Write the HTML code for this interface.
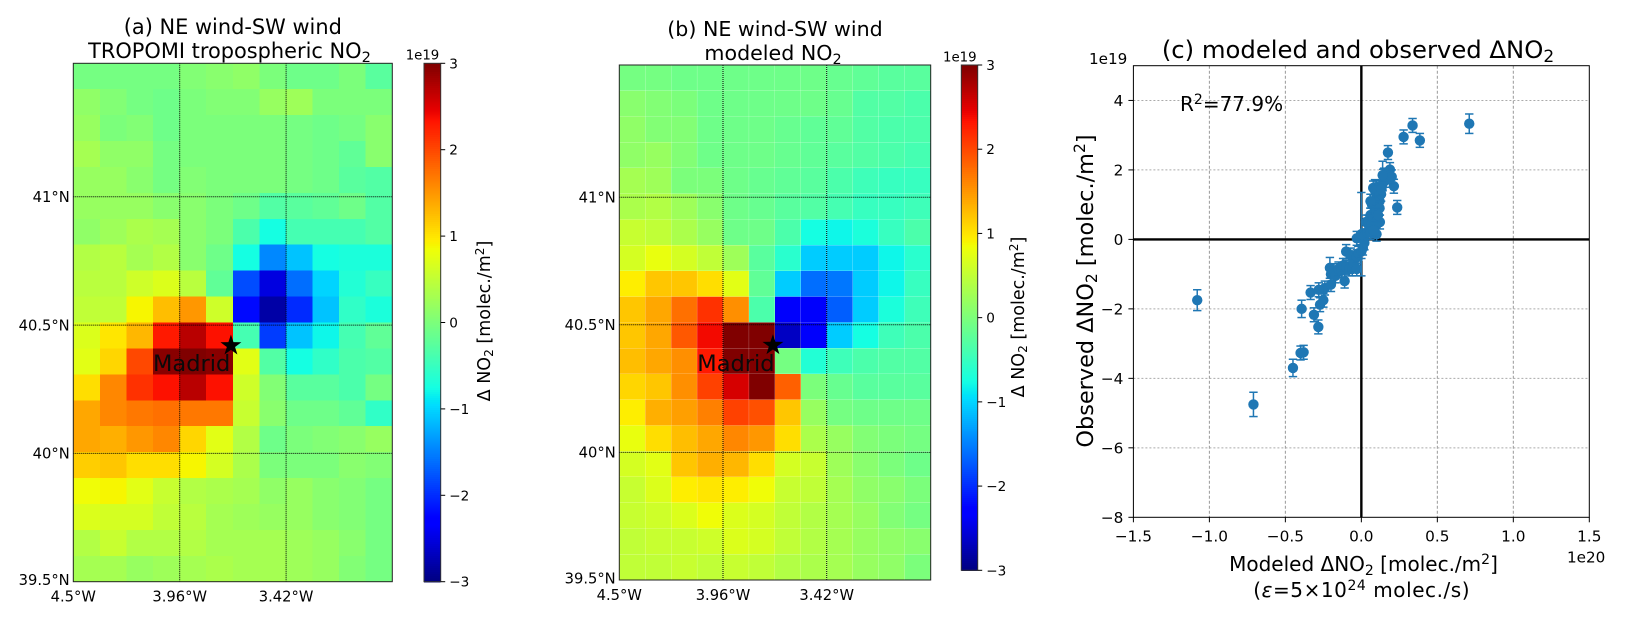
<!DOCTYPE html>
<html lang="en">
<head>
<meta charset="utf-8">
<title>NO2 wind difference maps</title>
<style>
html,body{margin:0;padding:0;background:#fff;}
svg{display:block;font-family:"DejaVu Sans","Liberation Sans",sans-serif;fill:#000;}
</style>
</head>
<body>
<svg id="fig" xmlns="http://www.w3.org/2000/svg" width="1625" height="620" viewBox="0 0 1625 620">
  <rect x="0" y="0" width="1625" height="620" fill="#fff"/>
  <g id="panelA"></g>
  <g id="panelB"></g>
  <g id="panelC"></g>

  <text x="232.8" y="34" font-size="20.9" text-anchor="middle">(a) NE wind-SW wind</text>
  <text x="229.5" y="58" font-size="20.9" text-anchor="middle">TROPOMI tropospheric NO<tspan font-size="14.6" dy="4">2</tspan></text>
  <text x="775" y="36" font-size="20.6" text-anchor="middle">(b) NE wind-SW wind</text>
  <text x="773" y="60" font-size="20.6" text-anchor="middle">modeled NO<tspan font-size="14.4" dy="4">2</tspan></text>
  <text x="1358" y="58" font-size="24.3" text-anchor="middle">(c) modeled and observed ΔNO<tspan font-size="17" dy="4">2</tspan></text>

  <text x="405.7" y="59.5" font-size="13.3">1e19</text>
  <text x="943" y="61.5" font-size="13.3">1e19</text>
  <text x="1089" y="64" font-size="15.2">1e19</text>
  <text x="1567" y="562.5" font-size="15.2">1e20</text>

  <text transform="translate(490,321) rotate(-90)" font-size="17.5" text-anchor="middle">Δ NO<tspan font-size="12.2" dy="3">2</tspan><tspan dy="-3"> [molec./m</tspan><tspan font-size="12.2" dy="-6">2</tspan><tspan dy="6">]</tspan></text>
  <text transform="translate(1024,317) rotate(-90)" font-size="17.5" text-anchor="middle">Δ NO<tspan font-size="12.2" dy="3">2</tspan><tspan dy="-3"> [molec./m</tspan><tspan font-size="12.2" dy="-6">2</tspan><tspan dy="6">]</tspan></text>

  <text transform="translate(1093,291) rotate(-90)" font-size="22.4" text-anchor="middle">Observed ΔNO<tspan font-size="15.6" dy="4">2</tspan><tspan dy="-4"> [molec./m</tspan><tspan font-size="15.6" dy="-8">2</tspan><tspan dy="8">]</tspan></text>
  <text x="1363.5" y="571" font-size="20" text-anchor="middle">Modeled ΔNO<tspan font-size="14" dy="4">2</tspan><tspan dy="-4"> [molec./m</tspan><tspan font-size="14" dy="-7">2</tspan><tspan dy="7">]</tspan></text>
  <text x="1361.7" y="597" font-size="20" text-anchor="middle" letter-spacing="0.55">(<tspan font-style="italic">ε</tspan>=5×10<tspan font-size="14" dy="-7">24</tspan><tspan dy="7"> molec./s)</tspan></text>
  <text x="1180" y="111" font-size="20">R<tspan font-size="14" dy="-7">2</tspan><tspan dy="7">=77.9%</tspan></text>

  <text x="153" y="371" font-size="22.5" fill="#0a0a0a">Madrid</text>
  <text x="697.3" y="371" font-size="22.5" fill="#0a0a0a">Madrid</text>
</svg>

<script>
// Panel (a) observed difference, 1e19 molec./m2, rows north to south, 12 columns
const observedRows = [
  [-.05,-.05,-.05,-.05,.05,.1,.15,0,-.1,-.1,0,-.25],
  [.15,.05,-.05,-.1,0,.05,.05,.2,.25,0,0,0],
  [.2,0,.05,-.1,0,0,0,0,-.05,-.1,-.05,.1],
  [.3,.15,.15,-.05,0,0,0,0,-.05,-.1,-.2,.1],
  [.2,.2,.1,-.05,.05,0,0,0,-.05,-.1,-.25,-.3],
  [.2,.2,.2,.1,.1,0,-.1,-.3,-.25,-.2,-.1,-.3],
  [.15,.25,.35,.3,.1,0,-.35,-.75,-.4,-.4,-.4,-.3],
  [.4,.45,.3,.4,.1,-.1,-.75,-1.45,-1.1,-.75,-.7,-.7],
  [.45,.45,.6,.7,.45,-.2,-1.8,-2.5,-1.6,-1.0,-.65,-.5],
  [.5,.5,.9,1.25,1.5,.6,-2.2,-2.8,-2.0,-1.1,-.55,-.7],
  [.7,1.0,1.3,2.3,2.7,2.35,-.4,-1.9,-1.1,-.8,-.4,-.2],
  [.75,1.1,2.0,2.95,3.0,2.95,.75,-.3,-.75,-.55,-.35,-.3],
  [1.05,1.6,2.15,2.35,2.7,2.35,.6,.05,-.25,-.25,-.35,-.05],
  [1.4,1.6,1.7,1.75,1.7,1.7,.55,.1,-.1,-.1,-.2,-.55],
  [1.4,1.35,1.5,1.6,1.1,.75,.4,-.1,0,.05,.1,.2],
  [1.15,1.2,1.05,1.05,.9,.65,.35,0,0,0,.1,.05],
  [.85,.9,.75,.55,.4,.35,.3,.15,.2,.1,.05,-.05],
  [.7,.65,.65,.5,.45,.3,.25,.2,.2,.1,.05,-.05],
  [.4,.55,.4,.4,.4,.3,.3,.3,.25,.2,.1,-.05],
  [.3,.3,.2,.25,.3,.35,.3,.3,.25,.2,.05,-.05]
];
// Panel (b) modeled difference, 1e19 molec./m2
const modeledRows = [
  [-.05,-.05,-.1,-.1,-.1,-.1,-.1,-.1,-.15,-.2,-.25,-.25],
  [.1,.05,0,-.1,-.1,-.1,-.1,-.1,-.15,-.3,-.3,-.35],
  [.15,.05,.05,-.1,-.1,-.1,-.15,-.2,-.2,-.3,-.35,-.35],
  [.15,.2,.05,-.1,-.1,-.1,-.15,-.2,-.25,-.3,-.35,-.4],
  [.3,.25,0,0,-.1,-.15,-.2,-.25,-.35,-.45,-.5,-.5],
  [.35,.4,.25,.1,-.1,-.15,-.25,-.3,-.4,-.5,-.5,-.45],
  [.55,.5,.35,.2,-.1,-.1,-.35,-.75,-.8,-.7,-.5,-.35],
  [.65,.8,.65,.5,.25,-.25,-.6,-1.05,-1.05,-1.05,-.8,-.6],
  [.95,1.2,1.2,1.05,.75,-.2,-1.05,-1.6,-1.55,-1.05,-.8,-.5],
  [1.2,1.4,1.75,2.15,1.55,-.35,-2.35,-2.35,-1.7,-1.05,-.7,-.45],
  [1.2,1.4,1.9,2.4,3.0,3.0,-2.65,-2.35,-1.05,-.75,-.45,-.35],
  [1.25,1.4,1.55,2.3,3.0,3.0,-.05,-.65,-.45,-.35,-.3,-.3],
  [1.1,1.2,1.55,2.05,2.55,3.0,1.85,0,-.15,-.25,-.25,-.25],
  [.95,1.35,1.45,1.65,2.05,1.95,1.2,.2,-.05,-.1,-.1,-.1],
  [.8,1.05,1.25,1.4,1.6,1.5,1.05,.35,.2,.05,0,-.05],
  [.65,.75,1.2,1.35,1.3,1.05,.65,.55,.25,.1,0,-.1],
  [.55,.7,.95,1.0,.95,.85,.55,.5,.3,.15,.1,0],
  [.55,.6,.7,.85,.7,.65,.5,.4,.3,.2,.05,-.05],
  [.5,.55,.55,.6,.7,.65,.5,.4,.3,.2,.15,.1],
  [.5,.5,.55,.5,.55,.5,.4,.35,.3,.2,.15,0]
];
// Map graticule labels
const latTicks = [41, 40.5, 40, 39.5];
const latLabels = ['41°N','40.5°N','40°N','39.5°N'];
const lonTicks = [-4.5, -3.96, -3.42];
const lonLabels = ['4.5°W','3.96°W','3.42°W'];
const colorbarTicks = [3, 2, 1, 0, -1, -2, -3];
const colorbarLabels = ['3','2','1','0','−1','−2','−3'];
const madridLon = -3.70;
const madridLat = 40.42;

// Panel (c) scatter: modeled (1e20), observed (1e19), observed error (1e19)
const modeledDelta = [-1.08,-.71,-.45,-.40,-.38,-.393,-.312,-.283,-.334,-.272,-.25,-.24,-.28,-.207,-.2,-.2,-.18,-.17,-.15,-.13,-.12,-.11,-.1,-.1,-.08,-.07,-.06,-.05,-.03,-.03,-.02,0,.01,.02,-.03,0,
  .02,.04,.03,.05,.06,.045,.07,.08,.09,.06,.1,.122,.07,.08,.09,.1,.12,.078,.13,.1,.14,.144,.18,.15,.16,.188,.214,.2,.175,.236,.278,.337,.385,.71,.14,.09,
  .06,.1,.12,.08,.11,.13];
const observedDelta = [-1.75,-4.75,-3.7,-3.27,-3.25,-2.0,-2.17,-2.52,-1.53,-1.88,-1.75,-1.4,-1.45,-.82,-1.0,-1.3,-.9,-1.05,-.85,-.9,-.75,-1.2,-.35,-.8,-.85,-.45,-.85,-.7,-.85,-.5,-.4,-.35,-.25,-.1,.03,.15,
  .1,.2,.5,.4,.7,.5,.45,.6,.35,.2,.15,.5,1.0,1.1,.9,1.2,1.1,1.48,1.3,1.5,1.6,1.82,1.85,1.85,1.7,2.01,1.53,1.8,2.5,.92,2.95,3.28,2.85,3.33,1.85,1.4,
  1.1,.8,.9,.25,.7,1.45];
const observedError = [.3,.35,.25,.2,.2,.25,.2,.2,.2,.2,.2,.2,.2,.3,.2,.2,.2,.2,.2,.2,.2,.2,.2,.2,.2,.2,.2,.2,.2,.2,.2,.2,.2,.2,.2,1.2,
  .2,.2,.2,.2,.2,.2,.2,.2,.2,.2,.2,.2,.2,.2,.2,.2,.2,.2,.2,.2,.2,.2,.2,.2,.2,.2,.2,.2,.2,.2,.2,.2,.2,.28,.4,.32,
  .2,.2,.2,.2,.2,.2];
const xTickValues = [-1.5,-1,-.5,0,.5,1,1.5];
const xTickLabels = ['−1.5','−1.0','−0.5','0.0','0.5','1.0','1.5'];
const yTickValues = [4,2,0,-2,-4,-6,-8];
const yTickLabels = ['4','2','0','−2','−4','−6','−8'];

const NS = 'http://www.w3.org/2000/svg';
function make(tag, parent, attrs) {
  const el = document.createElementNS(NS, tag);
  for (const k in attrs) el.setAttribute(k, attrs[k]);
  parent.appendChild(el);
  return el;
}
function jet(n) {
  n = Math.max(0, Math.min(1, n));
  const interp = (pts) => {
    for (let i = 1; i < pts.length; i++) {
      if (n <= pts[i][0]) {
        const t = (n - pts[i-1][0]) / (pts[i][0] - pts[i-1][0]);
        return pts[i-1][1] + t * (pts[i][1] - pts[i-1][1]);
      }
    }
    return pts[pts.length-1][1];
  };
  const r = interp([[0,0],[.35,0],[.66,1],[.89,1],[1,.5]]);
  const g = interp([[0,0],[.125,0],[.375,1],[.64,1],[.91,0],[1,0]]);
  const b = interp([[0,.5],[.11,1],[.34,1],[.65,0],[1,0]]);
  return 'rgb(' + Math.round(r*255) + ',' + Math.round(g*255) + ',' + Math.round(b*255) + ')';
}
const colorOf = (v) => jet((v + 3) / 6);

function drawMap(root, key, rows, box, cbar, seam) {
  const nRows = rows.length, nCols = rows[0].length;
  const xBand = (c) => box.left + c * (box.right - box.left) / nCols;
  const yBand = (r) => box.top + r * (box.bottom - box.top) / nRows;
  const lonX = (lon) => box.left + (lon + 4.5) * (box.x396 - box.left) / 0.54;
  const latY = (lat) => box.y395 - (lat - 39.5) * (box.y395 - box.y40) / 0.5;

  const cells = make('g', root, {'shape-rendering': seam ? 'geometricPrecision' : 'crispEdges'});
  
  
  rows.forEach((row, r) => row.forEach((v, c) => {
    const rect = make('rect', cells, {
      x: xBand(c), y: yBand(r),
      width: xBand(c+1) - xBand(c) - seam,
      height: yBand(r+1) - yBand(r) - seam,
      fill: colorOf(v)
    });
    
    
  }));

  lonTicks.forEach((lon, i) => {
    if (i > 0) {
      const line = make('line', root, {x1: lonX(lon), x2: lonX(lon), y1: box.top, y2: box.bottom, stroke: '#000', 'stroke-width': 1, 'stroke-dasharray': '1 1'});
      
      
    }
    const t = make('text', root, {x: lonX(lon), y: box.bottom + 20, 'font-size': 14.7, 'text-anchor': 'middle'});
    t.textContent = lonLabels[i];
    
    
  });
  latTicks.forEach((lat, i) => {
    if (i < latTicks.length - 1) {
      const line = make('line', root, {x1: box.left, x2: box.right, y1: latY(lat), y2: latY(lat), stroke: '#000', 'stroke-width': 1, 'stroke-dasharray': '1 1'});
      
      
    }
    const t = make('text', root, {x: box.left - 3.6, y: latY(lat) + (i === latTicks.length - 1 ? 3.5 : 5.3), 'font-size': 14.7, 'text-anchor': 'end'});
    t.textContent = latLabels[i];
    
    
  });

  const frame = make('rect', root, {x: box.left, y: box.top, width: box.right - box.left, height: box.bottom - box.top, fill: 'none', stroke: '#222', 'stroke-width': 1});
  
  

  // star marker
  const sx = lonX(madridLon), sy = latY(madridLat);
  const starPts = [];
  for (let i = 0; i < 10; i++) {
    const rad = i % 2 ? 4.3 : 11, ang = -Math.PI/2 + i * Math.PI/5;
    starPts.push((sx + rad*Math.cos(ang)).toFixed(2) + ',' + (sy + rad*Math.sin(ang)).toFixed(2));
  }
  const star = make('polygon', root, {points: starPts.join(' '), fill: '#000'});
  
  

  // colorbar
  const cbY = (v) => cbar.bottom - (v + 3) * (cbar.bottom - cbar.top) / 6;
  const steps = 256;
  const grad = make('g', root, {'shape-rendering': 'crispEdges'});
  
  
  for (let i = 0; i < steps; i++) {
    const v0 = -3 + 6*i/steps, v1 = -3 + 6*(i+1)/steps;
    const seg = make('rect', grad, {x: cbar.left, y: cbY(v1), width: cbar.right - cbar.left, height: cbY(v0) - cbY(v1) + 0.6, fill: colorOf((v0+v1)/2)});
    
    
  }
  const cbFrame = make('rect', root, {x: cbar.left, y: cbar.top, width: cbar.right - cbar.left, height: cbar.bottom - cbar.top, fill: 'none', stroke: '#333', 'stroke-width': 1});
  
  
  colorbarTicks.forEach((v, i) => {
    const tick = make('line', root, {x1: cbar.right, x2: cbar.right + 4.5, y1: cbY(v), y2: cbY(v), stroke: '#000', 'stroke-width': 1});
    
    
    const t = make('text', root, {x: cbar.right + 8.5, y: cbY(v) + 5, 'font-size': 13.6});
    t.textContent = colorbarLabels[i];
    
    
  });
}

drawMap(document.getElementById('panelA'), 'panel-a', observedRows,
  {left: 73.3, right: 392.3, top: 63.3, bottom: 581.7, x396: 179.7, y395: 581.7, y40: 453.4},
  {left: 424, right: 440.7, top: 63.3, bottom: 581.7}, 0);
drawMap(document.getElementById('panelB'), 'panel-b', modeledRows,
  {left: 619.3, right: 930.7, top: 65, bottom: 580, x396: 723, y395: 580, y40: 452.4},
  {left: 961.3, right: 977.7, top: 65, bottom: 570.3}, 0.18);

// scatter panel
(function () {
  const root = document.getElementById('panelC');
  const L = 1133.4, R = 1589.3, T = 65.7, B = 517.3;
  const x = (v) => L + (v + 1.5) * (R - L) / 3;
  const y = (v) => B - (v + 8) * (B - T) / 13;

  xTickValues.forEach((v, i) => {
    if (v !== 0 && Math.abs(v) !== 1.5) {
      const g = make('line', root, {x1: x(v), x2: x(v), y1: T, y2: B, stroke: '#999', 'stroke-width': 1, 'stroke-dasharray': '3 2'});
      
      
    }
    const tick = make('line', root, {x1: x(v), x2: x(v), y1: B, y2: B + 5, stroke: '#000', 'stroke-width': 1});
    
    
    const t = make('text', root, {x: x(v), y: B + 24, 'font-size': 15.3, 'text-anchor': 'middle'});
    t.textContent = xTickLabels[i];
    
    
  });
  yTickValues.forEach((v, i) => {
    if (v !== 0 && v !== -8) {
      const g = make('line', root, {x1: L, x2: R, y1: y(v), y2: y(v), stroke: '#aaa', 'stroke-width': 1, 'stroke-dasharray': '2 2'});
      
      
    }
    const tick = make('line', root, {x1: L - 5, x2: L, y1: y(v), y2: y(v), stroke: '#000', 'stroke-width': 1});
    
    
    const t = make('text', root, {x: L - 10, y: y(v) + 5.6, 'font-size': 15.3, 'text-anchor': 'end'});
    t.textContent = yTickLabels[i];
    
    
  });

  const zeroV = make('line', root, {x1: x(0), x2: x(0), y1: T, y2: B, stroke: '#000', 'stroke-width': 2.4});
  
  
  const zeroH = make('line', root, {x1: L, x2: R, y1: y(0), y2: y(0), stroke: '#000', 'stroke-width': 2.4});
  
  

  const color = '#1f77b4';
  modeledDelta.forEach((mx, i) => {
    const oy = observedDelta[i], err = observedError[i];
    const group = make('g', root, {});
    
    
    make('line', group, {x1: x(mx), x2: x(mx), y1: y(oy - err), y2: y(oy + err), stroke: color, 'stroke-width': 1.5});
    make('line', group, {x1: x(mx) - 4.2, x2: x(mx) + 4.2, y1: y(oy - err), y2: y(oy - err), stroke: color, 'stroke-width': 1.5});
    make('line', group, {x1: x(mx) - 4.2, x2: x(mx) + 4.2, y1: y(oy + err), y2: y(oy + err), stroke: color, 'stroke-width': 1.5});
    make('circle', group, {cx: x(mx), cy: y(oy), r: 5.2, fill: color});
  });

  const frame = make('rect', root, {x: L, y: T, width: R - L, height: B - T, fill: 'none', stroke: '#000', 'stroke-width': 1});
  
  
})();
</script>
</body>
</html>
